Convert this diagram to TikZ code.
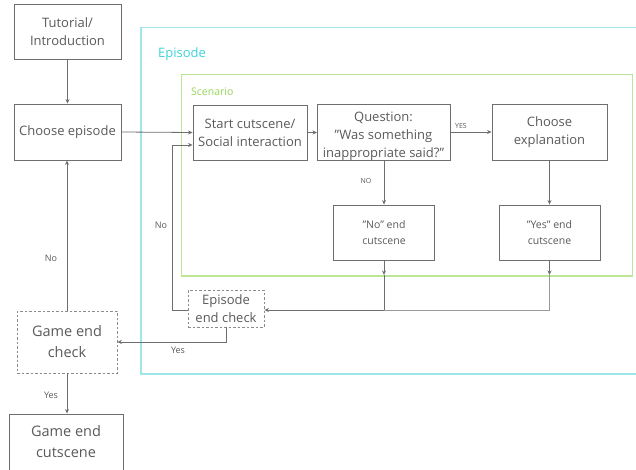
\documentclass[tikz,border=0pt]{standalone}
\usepackage{fontspec}
\setmainfont{Open Sans}
\usetikzlibrary{arrows.meta,calc}
\definecolor{boxline}{HTML}{6E6E6E}
\definecolor{txt}{HTML}{5A5A5A}
\definecolor{epi}{HTML}{9EE6EA}
\definecolor{epitxt}{HTML}{3CD3DA}
\definecolor{scen}{HTML}{BCE596}
\definecolor{scentxt}{HTML}{94D45A}
\newcommand{\qq}{\symbol{34}}
\tikzset{
  box/.style={draw=boxline, line width=0.9pt, fill=white, text=txt, align=center,
    font=\fontsize{13}{18}\selectfont, inner sep=0pt},
  dbox/.style={box, draw=boxline!80, line width=0.8pt, dash pattern=on 2.5pt off 2pt},
  conn/.style={draw=boxline, line width=0.8pt, -{Stealth[length=4.5pt,width=4pt]}},
  plain/.style={draw=boxline, line width=0.8pt},
  lbl/.style={text=txt, font=\fontsize{9}{10}\selectfont, inner sep=0pt},
  slbl/.style={text=txt, font=\fontsize{7}{8}\selectfont, inner sep=0pt},
}
\begin{document}
\begin{tikzpicture}[x=1pt,y=-1pt]
\useasboundingbox (0,0) rectangle (636,470);
% frames
\draw[epi, line width=1.3pt] (700,27.5) -- (141,27.5) -- (141,374) -- (700,374);
\node[text=epitxt, font=\fontsize{13}{14}\selectfont, anchor=west, inner sep=0pt] (eplab) at (158,54) {Episode};
\draw[scen, line width=1.3pt] (181.5,74.5) rectangle (632.5,276);
\node[text=scentxt, font=\fontsize{10.5}{12}\selectfont, anchor=west, inner sep=0pt] (sclab) at (191,92) {Scenario};
% nodes
\node[box, minimum width=107pt, minimum height=55pt] (tut) at (67.5,31.5) {Tutorial/\\Introduction};
\node[box, minimum width=107pt, minimum height=56pt] (choose) at (67.5,132) {Choose episode};
\node[box, minimum width=114pt, minimum height=55pt] (start) at (250,132.5) {Start cutscene/\\Social interaction};
\node[box, draw=none, fill=none, minimum width=133pt, minimum height=56pt] (quest) at (383.5,136) {Question:\\\qq Was something\\inappropriate said?\qq};
\draw[boxline, line width=0.9pt] (317,104) rectangle (450,160);
\node[box, minimum width=115pt, minimum height=56pt] (expl) at (549.5,132) {Choose\\explanation};
\node[box, minimum width=101pt, minimum height=55pt, font=\fontsize{10.5}{16}\selectfont] (noend) at (384,232.5) {\qq No\qq\ end\\cutscene};
\node[box, minimum width=101pt, minimum height=55pt, font=\fontsize{10.5}{16}\selectfont] (yesend) at (549.5,232.5) {\qq Yes\qq\ end\\cutscene};
\node[dbox, minimum width=76pt, minimum height=37pt] (epcheck) at (226,308.5) {Episode\\end check};
\node[dbox, minimum width=100pt, minimum height=62pt, font=\fontsize{14.5}{21}\selectfont] (gamecheck) at (67,342) {Game end\\check};
\node[box, minimum width=114pt, minimum height=56pt, font=\fontsize{14.5}{21}\selectfont] (gameend) at (66,442) {Game end\\cutscene};
% coordinates
\coordinate (nb) at (384,275);
\coordinate (yb) at (549.5,275);
\coordinate (join) at (384,310);
\coordinate (loopc) at (172,310);
% connectors
\draw[conn] (tut) -- (choose);
\draw[conn] (choose.east) -- (start.west);
\draw[conn] (start.east) -- (start.east -| 317,0);
\draw[conn] (450,132) -- (expl.west);
\draw[conn] (384,160) -- (noend.north);
\draw[conn] (expl) -- (yesend);
\draw[conn] (noend.south) -- (nb);
\draw[conn] (yesend.south) -- (yb);
\draw[plain] (nb) -- (join);
\draw[plain, draw=boxline!70] (yb) |- (join);
\draw[conn] (join) -- (join -| epcheck.east);
\draw[conn] (epcheck.west |- loopc) -- (loopc) |- ($(start.west)+(0,12.5)$);
\draw[conn] (epcheck.south) |- (gamecheck.east);
\draw[conn] (gamecheck.north) -- (gamecheck.north |- choose.south);
\draw[conn] (gamecheck.south) -- (gamecheck.south |- gameend.north);
% labels
\node[slbl] (lyes) at (461,126.5) {YES};
\node[slbl] (lno) at (366,180.5) {NO};
\node[lbl] (lno2) at (161,225.5) {No};
\node[lbl] (lyes2) at (178,350) {Yes};
\node[lbl] (lno3) at (51,258) {No};
\node[lbl] (lyes3) at (51,395) {Yes};
\end{tikzpicture}
\end{document}
